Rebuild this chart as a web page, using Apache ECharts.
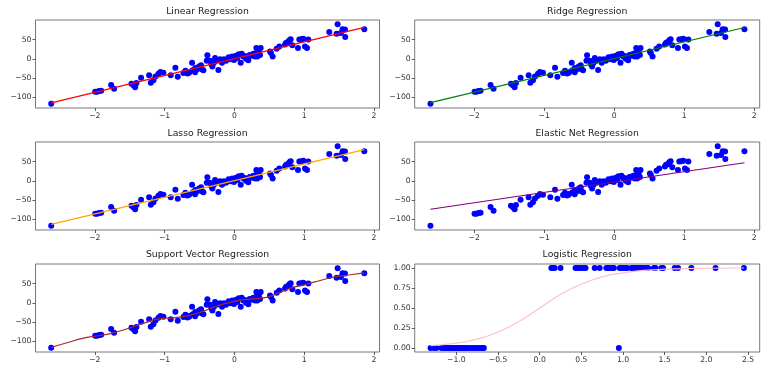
<!DOCTYPE html>
<html><head><meta charset="utf-8">
<script src="https://cdn.jsdelivr.net/npm/echarts@6/dist/echarts.min.js"></script>
<style>html,body{margin:0;padding:0;background:#fff}#c{width:768px;height:373px}</style>
</head><body><div id="c"></div>
<script>
// Shared regression data (x, y)
const xData = [-2.625,-1.995,-1.967,-1.938,-1.909,-1.766,-1.723,-1.475,-1.446,-1.422,-1.403,-1.337,-1.222,-1.198,-1.160,-1.131,-1.088,-1.060,-1.017,-0.912,-0.845,-0.811,-0.730,-0.702,-0.673,-0.644,-0.606,-0.597,-0.563,-0.539,-0.506,-0.477,-0.468,-0.444,-0.387,-0.396,-0.348,-0.315,-0.296,-0.277,-0.253,-0.229,-0.205,-0.177,-0.148,-0.119,-0.081,-0.053,-0.029,-0.005,0.024,0.043,0.062,0.091,0.105,0.129,0.167,0.200,0.220,0.248,0.272,0.296,0.315,0.329,0.348,0.377,0.368,0.329,0.511,0.525,0.549,0.606,0.644,0.726,0.759,0.788,0.807,0.831,0.912,0.931,0.959,0.988,1.012,1.041,1.060,1.360,1.480,1.465,1.527,1.551,1.585,1.589,1.862,0.740,-0.560,-0.330,0.150,0.350,-0.650,0.780];
const yData = [-117,-86,-86,-84,-83,-68,-78,-65,-69,-74,-63,-49,-43,-62,-56,-46,-39,-34,-36,-43,-23,-47,-37,-31,-38,-34,-10,-30,-35,-28,-20,-17,-27,-30,9,-5,-5,-20,-11,2,-5,-29,-1,-10,-1,-5,4,-1,6,-3,8,2,12,-10,13,6,0,-4,10,8,13,6,28,21,25,28,10,6,19,15,6,26,32,37,43,48,51,35,28,50,51,52,32,28,50,70,90,65,67,77,76,57,77,41,-24,-14,7,18,-36,44];

// Fitted lines
const linX = [-2.625, 1.862];
const linY = [-114.5, 82.0];
const ridgeY = [-114.0, 81.5];
const lassoY = [-113.5, 81.0];
const enetY = [-74.0, 47.0];
const svrX = [-2.625,-2.4,-2.16,-2.0,-1.78,-1.49,-1.30,-1.06,-0.87,-0.68,-0.49,-0.30,-0.11,0.08,0.27,0.46,0.65,0.84,1.04,1.23,1.42,1.66,1.862];
const svrY = [-116,-104,-92,-87,-80,-65,-53,-41,-39,-34,-25,-12,-1,7,10,14,27,40,49,58,67,73,78];

// Logistic data
const logX0 = [-1.31,-1.27,-1.24,-1.18,-1.16,-1.14,-1.12,-1.10,-1.08,-1.06,-1.04,-1.02,-1.00,-0.98,-0.96,-0.94,-0.92,-0.90,-0.88,-0.86,-0.83,-0.80,-0.78,-0.75,-0.72,-0.70,-0.68,-0.67,0.95];
const logX1 = [0.14,0.16,0.18,0.25,0.43,0.45,0.47,0.50,0.53,0.55,0.66,0.72,0.80,0.82,0.84,0.87,0.89,0.96,0.98,1.00,1.03,1.05,1.10,1.12,1.14,1.16,1.18,1.20,1.22,1.25,1.28,1.30,1.37,1.39,1.46,1.48,1.62,1.66,1.82,2.11,2.45];
const sigX = [-1.31,-1.0,-0.75,-0.5,-0.25,0,0.25,0.5,0.75,1.0,1.25,1.5,2.0,2.45];
const sigY = [0.03,0.06,0.11,0.2,0.33,0.5,0.67,0.8,0.89,0.94,0.97,0.985,0.997,1.0];

const titles = ['Linear Regression','Ridge Regression','Lasso Regression','Elastic Net Regression','Support Vector Regression','Logistic Regression'];
const regTicksX = [-2,-1,0,1,2];
const regTicksY = [-100,-50,0,50];
const logTicksX = [-1.0,-0.5,0.0,0.5,1.0,1.5,2.0,2.5];
const logTicksY = [0,0.25,0.5,0.75,1.0];

const pair = (xs, ys) => xs.map((x, i) => [x, ys[i]]);
const pts = pair(xData, yData);
const fmtMinus = s => String(s).replace('-', '\u2212');

const rowTop = [20, 142, 264];
const colLeft = [35.5, 414.7];
const colW = [344, 345];
const H = 88;
const titleCY = [12.7, 134.7, 256.5];

const grids = [], xAxes = [], yAxes = [], series = [], titleArr = [];
const labelStyle = {fontFamily: 'DejaVu Sans', fontSize: 7.7, color: '#333'};

for (let k = 0; k < 6; k++) {
  const r = Math.floor(k / 2), c = k % 2;
  grids.push({left: colLeft[c], top: rowTop[r], width: colW[c], height: H, show: true, borderColor: '#555', borderWidth: 0.8, backgroundColor: 'transparent', containLabel: false});
  const isLog = k === 5;
  const xt = isLog ? logTicksX : regTicksX;
  const yt = isLog ? logTicksY : regTicksY;
  xAxes.push({
    type: 'value', gridIndex: k, position: 'bottom',
    min: isLog ? -1.50 : -2.85, max: isLog ? 2.64 : 2.08,
    splitLine: {show: false},
    axisLine: {show: false, onZero: false},
    axisTick: {show: true, length: 3, lineStyle: {color: '#333', width: 0.8}, customValues: xt},
    axisLabel: Object.assign({margin: 4, customValues: xt, formatter: v => fmtMinus(isLog ? v.toFixed(1) : v)}, labelStyle)
  });
  yAxes.push({
    type: 'value', gridIndex: k, position: 'left',
    min: isLog ? -0.05 : -128, max: isLog ? 1.05 : 101,
    splitLine: {show: false},
    axisLine: {show: false, onZero: false},
    axisTick: {show: true, length: 3, lineStyle: {color: '#333', width: 0.8}, customValues: yt},
    axisLabel: Object.assign({margin: 4, customValues: yt, formatter: v => fmtMinus(isLog ? v.toFixed(2) : v)}, labelStyle)
  });
  titleArr.push({
    text: titles[k], left: colLeft[c] + colW[c] / 2, top: titleCY[r] - 6, textAlign: 'center', padding: 0,
    textStyle: {fontFamily: 'DejaVu Sans', fontSize: 9.3, fontWeight: 'normal', color: '#222'}
  });
}

const dot = (idx, data) => ({type: 'scatter', xAxisIndex: idx, yAxisIndex: idx, data, symbolSize: 6, itemStyle: {color: '#0000ff', opacity: 1}, z: 2});
const line = (idx, data, color, smooth) => ({type: 'line', xAxisIndex: idx, yAxisIndex: idx, data, showSymbol: false, smooth: !!smooth, lineStyle: {color, width: 1.2}, itemStyle: {color}, z: 3});

series.push(dot(0, pts), line(0, pair(linX, linY), '#ff0000'));
series.push(dot(1, pts), line(1, pair(linX, ridgeY), '#008000'));
series.push(dot(2, pts), line(2, pair(linX, lassoY), '#ffa500'));
series.push(dot(3, pts), line(3, pair(linX, enetY), '#800080'));
series.push(dot(4, pts), line(4, pair(svrX, svrY), '#a52a2a', true));
series.push(dot(5, logX0.map(x => [x, 0]).concat(logX1.map(x => [x, 1]))), line(5, pair(sigX, sigY), '#ffc0cb', true));

const chart = echarts.init(document.getElementById('c'), null, {renderer: 'canvas'});
chart.setOption({animation: false, backgroundColor: '#fff', title: titleArr, grid: grids, xAxis: xAxes, yAxis: yAxes, series});
</script></body></html>
